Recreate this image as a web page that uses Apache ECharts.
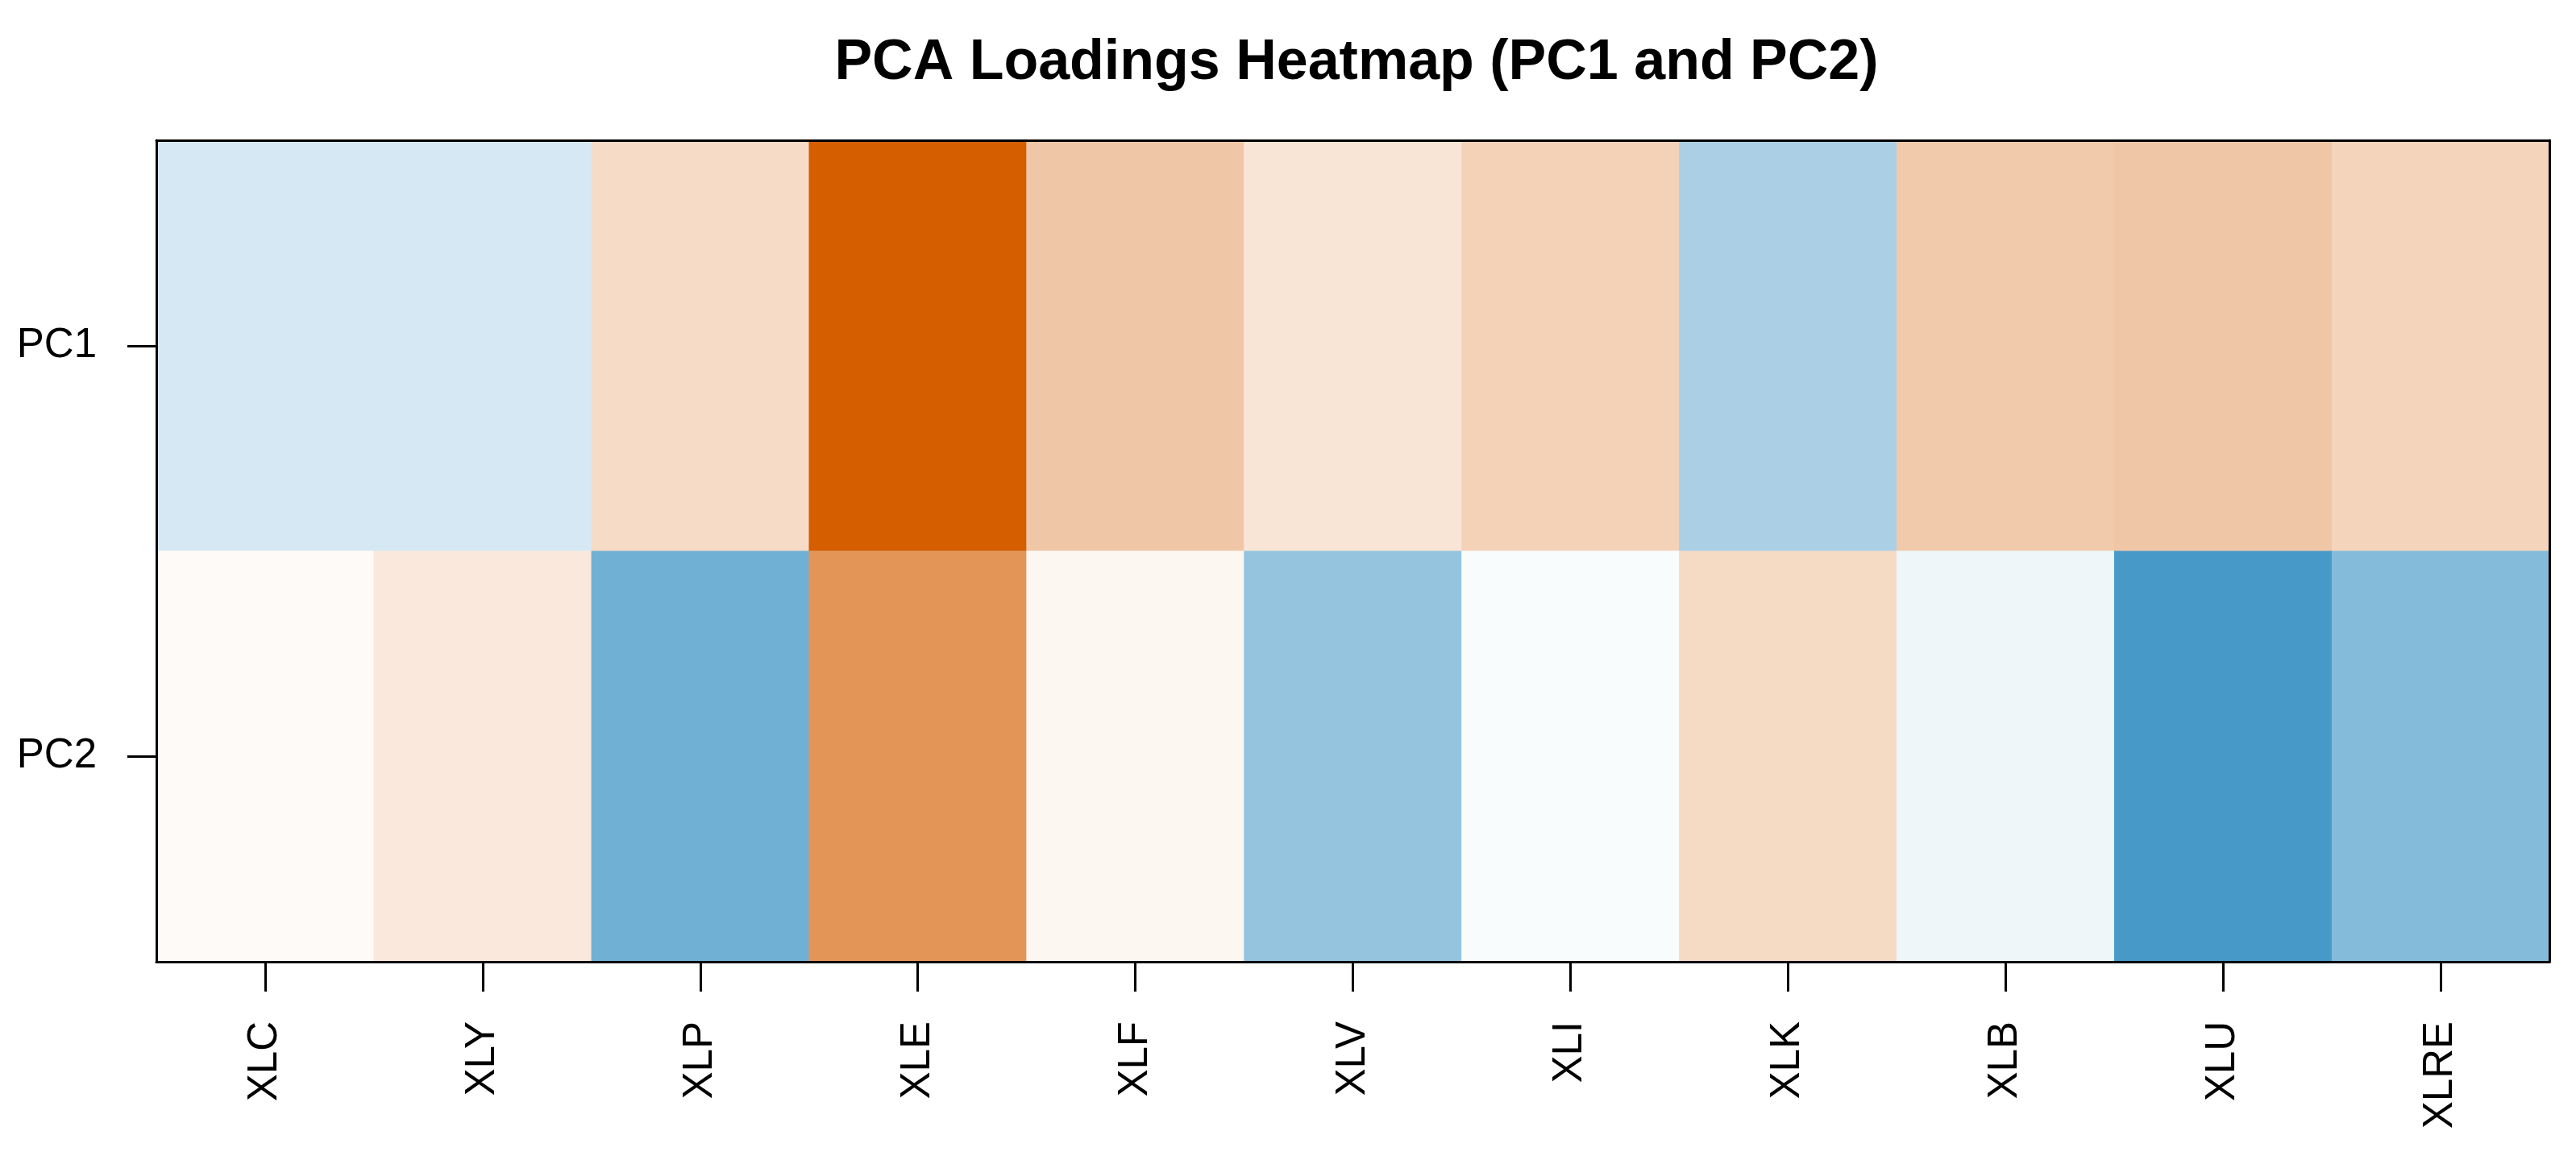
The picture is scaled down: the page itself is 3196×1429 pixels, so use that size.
<!DOCTYPE html>
<html>
	<head>
		<meta charset="utf-8">
		<title>PCA Loadings Heatmap</title>
		<script src="https://cdn.jsdelivr.net/npm/echarts@6/dist/echarts.min.js" type="text/javascript" charset="utf-8"></script>
		<style>
			html, body { margin: 0; padding: 0; background: #fff; }
			#main { width: 3196px; height: 1429px; }
		</style>
	</head>
	<body>
		<div id="main"></div>

		<script type="text/javascript">
			// sector ETFs (x axis) and the two components (y axis)
			var tickers = ['XLC', 'XLY', 'XLP', 'XLE', 'XLF', 'XLV', 'XLI', 'XLK', 'XLB', 'XLU', 'XLRE']
			var components = ['PC1', 'PC2']

			// loadings
			var pc1Loadings = [-0.121, -0.121, 0.167, 0.757, 0.265, 0.121, 0.212, -0.250, 0.250, 0.265, 0.204]
			var pc2Loadings = [0.023, 0.106, -0.424, 0.500, 0.038, -0.315, -0.018, 0.174, -0.050, -0.545, -0.363]

			// colour scale is symmetric around 0
			var zLimit = 0.757

			var chartDom = document.getElementById('main')
			var myChart = echarts.init(chartDom)

			var cells = []
			var rows = [pc1Loadings, pc2Loadings]
			for (var r = 0; r < rows.length; r++) {
				for (var i = 0; i < tickers.length; i++) {
					cells.push([i, r, rows[r][i]])
				}
			}

			var font = 'Liberation Sans, Arial, Helvetica, sans-serif'
			var blackLine = { color: '#000', width: 3 }

			var option = {
				animation: false,
				title: {
					text: 'PCA Loadings Heatmap (PC1 and PC2)',
					left: 1678,
					textAlign: 'center',
					top: 39,
					textStyle: { fontFamily: font, fontSize: 70, fontWeight: 'bold', color: '#000' }
				},
				grid: { left: 194, right: 33, top: 174, bottom: 236 },
				visualMap: {
					show: false,
					type: 'continuous',
					min: -zLimit,
					max: zLimit,
					inRange: { color: ['#0072B2', '#FFFFFF', '#D55E00'] }
				},
				xAxis: [
					{
						type: 'category',
						position: 'bottom',
						data: tickers,
						z: 10,
						axisLine: { show: true, lineStyle: blackLine },
						axisTick: { show: true, alignWithLabel: true, length: 37, lineStyle: blackLine },
						axisLabel: { rotate: 90, fontSize: 51, fontFamily: font, color: '#000', margin: 74 },
						splitLine: { show: false }
					},
					{
						type: 'category',
						position: 'top',
						data: tickers,
						z: 10,
						axisLine: { show: true, lineStyle: blackLine },
						axisTick: { show: false },
						axisLabel: { show: false },
						splitLine: { show: false }
					}
				],
				yAxis: [
					{
						type: 'category',
						position: 'left',
						inverse: true,
						data: components,
						z: 10,
						axisLine: { show: true, lineStyle: blackLine },
						axisTick: { show: true, alignWithLabel: true, length: 36, lineStyle: blackLine },
						axisLabel: { fontSize: 51, fontFamily: font, color: '#000', margin: 74 },
						splitLine: { show: false }
					},
					{
						type: 'category',
						position: 'right',
						inverse: true,
						data: components,
						z: 10,
						axisLine: { show: true, lineStyle: blackLine },
						axisTick: { show: false },
						axisLabel: { show: false },
						splitLine: { show: false }
					}
				],
				series: [
					{
						name: 'loading',
						type: 'heatmap',
						xAxisIndex: 0,
						yAxisIndex: 0,
						data: cells,
						emphasis: { disabled: true }
					}
				]
			}

			myChart.setOption(option)
		</script>
	</body>
</html>
